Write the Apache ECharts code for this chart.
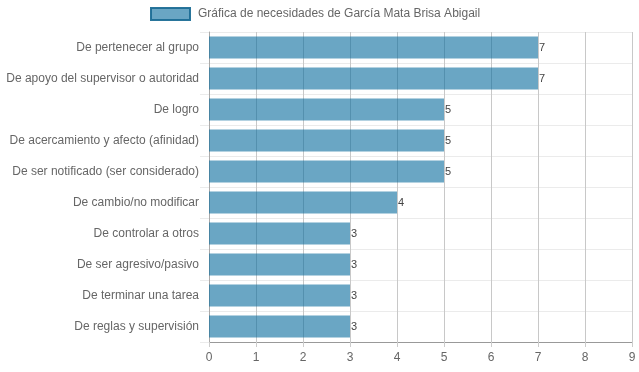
<!DOCTYPE html>
<html><head><meta charset="utf-8">
<script src="https://cdn.jsdelivr.net/npm/echarts@6/dist/echarts.min.js"></script>
<style>html,body{margin:0;padding:0;background:#fff}#c{width:639px;height:372px}</style>
</head><body><div id="c"></div>
<script>
const categories = [
  "De pertenecer al grupo",
  "De apoyo del supervisor o autoridad",
  "De logro",
  "De acercamiento y afecto (afinidad)",
  "De ser notificado (ser considerado)",
  "De cambio/no modificar",
  "De controlar a otros",
  "De ser agresivo/pasivo",
  "De terminar una tarea",
  "De reglas y supervisión"
];
const values = [7, 7, 5, 5, 5, 4, 3, 3, 3, 3];
const seriesName = "Gráfica de necesidades de García Mata Brisa Abigail";
const xTicks = [0, 1, 2, 3, 4, 5, 6, 7, 8, 9];

const chart = echarts.init(document.getElementById('c'), null, {renderer: 'canvas'});
chart.setOption({
  animation: false,
  textStyle: {fontFamily: 'Liberation Sans, Arial, sans-serif'},
  legend: {
    top: 7, left: 150, padding: 0,
    itemWidth: 39, itemHeight: 12, itemGap: 8,
    icon: 'rect',
    itemStyle: {color: 'rgba(7,107,157,0.6)', borderColor: 'rgba(30,110,150,0.95)', borderWidth: 2},
    textStyle: {color: '#666', fontSize: 12, fontFamily: 'Liberation Sans, Arial, sans-serif', padding: [0, 0, 0, 3]},
    data: [seriesName]
  },
  grid: {left: 209, right: 7, top: 32, bottom: 30, containLabel: false},
  xAxis: {
    type: 'value', min: xTicks[0], max: xTicks[xTicks.length - 1], interval: 1,
    axisLine: {show: true, lineStyle: {color: '#999', width: 1}},
    axisTick: {show: true, length: 5, lineStyle: {color: '#ccc'}},
    axisLabel: {color: '#666', fontSize: 12, margin: 10},
    splitLine: {show: true, lineStyle: {color: '#c8c8c8', width: 1}}
  },
  yAxis: {
    type: 'category', inverse: true, data: categories,
    axisLine: {show: true, lineStyle: {color: '#aaa'}},
    axisTick: {show: true, length: 9, lineStyle: {color: '#ebebeb'}},
    axisLabel: {color: '#666', fontSize: 12, margin: 10},
    splitLine: {show: true, lineStyle: {color: '#ebebeb'}}
  },
  series: [{
    name: seriesName, type: 'bar', data: values, barWidth: 22,
    itemStyle: {color: 'rgba(7,107,157,0.6)'},
    label: {show: true, position: 'right', distance: 1, color: '#444', fontSize: 11}
  }]
});
</script></body></html>
